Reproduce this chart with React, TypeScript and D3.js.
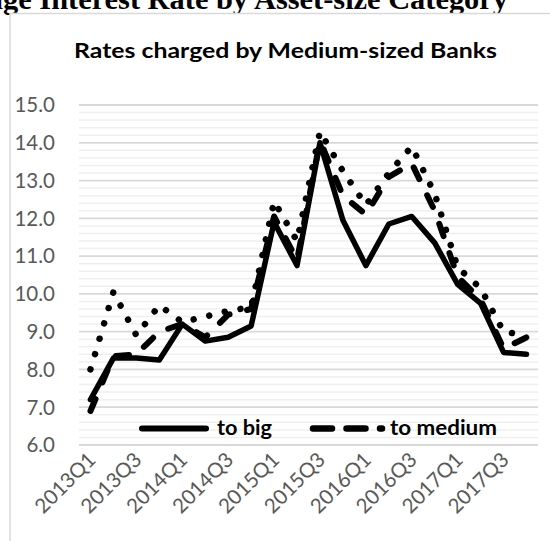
import React from 'react';
import * as d3 from 'd3';

const categories = [
  '2013Q1', '2013Q2', '2013Q3', '2013Q4',
  '2014Q1', '2014Q2', '2014Q3', '2014Q4',
  '2015Q1', '2015Q2', '2015Q3', '2015Q4',
  '2016Q1', '2016Q2', '2016Q3', '2016Q4',
  '2017Q1', '2017Q2', '2017Q3', '2017Q4',
];
const toBig = [7.2, 8.3, 8.3, 8.25, 9.2, 8.75, 8.85, 9.15, 11.9, 10.75, 14.0, 11.95, 10.75, 11.85, 12.05, 11.35, 10.25, 9.75, 8.45, 8.4];
const toMedium = [6.9, 8.35, 8.4, 9.0, 9.2, 8.85, 9.45, 9.6, 12.05, 10.9, 14.05, 12.6, 12.1, 13.1, 13.45, 12.2, 10.45, 9.85, 8.55, 8.85];
const toSmall = [8.0, 10.05, 8.9, 9.7, 9.25, 9.4, 9.55, 9.65, 12.45, 11.4, 14.3, 13.25, 12.35, 13.2, 13.9, 12.65, 10.7, 10.15, 9.0, 8.9];
const yTicks = [6, 7, 8, 9, 10, 11, 12, 13, 14, 15];
const xTickLabels = categories.filter((_, i) => i % 2 === 0);
const legendItems = ['to big', 'to medium'];
const pageTitle = 'Average Interest Rate by Asset-size Category';
const chartTitle = 'Rates charged by Medium-sized Banks';

export default function App() {
  const W = 550;
  const H = 541;
  const x = d3.scalePoint<string>().domain(categories).range([79, 538]).padding(0.5);
  const y = d3.scaleLinear().domain([6, 15]).range([445, 105]);
  const line = d3
    .line<number>()
    .x((_, i) => x(categories[i]) as number)
    .y((d) => y(d));
  const minorTicks = d3
    .range(30, 76)
    .filter((v) => v % 5 !== 0)
    .map((v) => v / 5);
  const font = 'Lato, Calibri, "Noto Sans", sans-serif';

  return (
    <svg
      width={W}
      height={H}
      style={{ position: 'absolute', left: 0, top: 0, background: '#fff' }}
    >
      <rect x={0} y={0} width={W} height={H} fill="#fff" />
      <text
        x={508}
        y={8.8}
        textAnchor="end"
        fontFamily='"Liberation Serif", "Times New Roman", serif'
        fontWeight="bold"
        fontSize={30.4}
        fill="#000"
      >
        {pageTitle}
      </text>
      <rect x={10} y={13.5} width={600} height={600} fill="#fff" stroke="#d9d9d9" strokeWidth={1.5} />
      <text
        x={74}
        y={57.5}
        fontFamily={font}
        fontWeight="bold"
        fontSize={20.5}
        fill="#000"
        textLength={423}
        lengthAdjust="spacingAndGlyphs"
      >
        {chartTitle}
      </text>
      {minorTicks.map((t) => (
        <line key={'m' + t} x1={79} x2={538} y1={y(t)} y2={y(t)} stroke="#efefef" strokeWidth={1.5} />
      ))}
      {yTicks.map((t) => (
        <line key={'g' + t} x1={79} x2={538} y1={y(t)} y2={y(t)} stroke="#d9d9d9" strokeWidth={1.8} />
      ))}
      {yTicks.map((t) => (
        <text
          key={'yl' + t}
          x={55}
          y={y(t)}
          dy="0.36em"
          textAnchor="end"
          fontFamily={font}
          fontSize={20.5}
          fill="#595959"
        >
          {t.toFixed(1)}
        </text>
      ))}
      {xTickLabels.map((c) => {
        const px = (x(c) as number) + 6.5;
        const py = 461;
        return (
          <text
            key={'xl' + c}
            x={px}
            y={py}
            textAnchor="end"
            transform={`rotate(-45 ${px} ${py})`}
            fontFamily={font}
            fontSize={20.5}
            fill="#595959"
          >
            {c}
          </text>
        );
      })}
      <path d={line(toBig) || ''} fill="none" stroke="#000" strokeWidth={5.5} strokeLinejoin="round" strokeLinecap="round" />
      <path
        d={line(toMedium) || ''}
        fill="none"
        stroke="#000"
        strokeWidth={6}
        strokeDasharray="13 18"
        strokeLinejoin="round"
        strokeLinecap="round"
      />
      <path
        d={line(toSmall) || ''}
        fill="none"
        stroke="#000"
        strokeWidth={6.5}
        strokeDasharray="0.01 16"
        strokeLinejoin="round"
        strokeLinecap="round"
      />
      <line x1={142} x2={206} y1={428.5} y2={428.5} stroke="#000" strokeWidth={6} strokeLinecap="round" />
      <text x={217} y={435} fontFamily={font} fontWeight="bold" fontSize={20} fill="#000" textLength={55} lengthAdjust="spacingAndGlyphs">
        {legendItems[0]}
      </text>
      <line
        x1={313}
        x2={382}
        y1={428.5}
        y2={428.5}
        stroke="#000"
        strokeWidth={6.5}
        strokeDasharray="19 14.5"
        strokeLinecap="round"
      />
      <text x={390} y={435} fontFamily={font} fontWeight="bold" fontSize={20} fill="#000" textLength={107} lengthAdjust="spacingAndGlyphs">
        {legendItems[1]}
      </text>
    </svg>
  );
}
